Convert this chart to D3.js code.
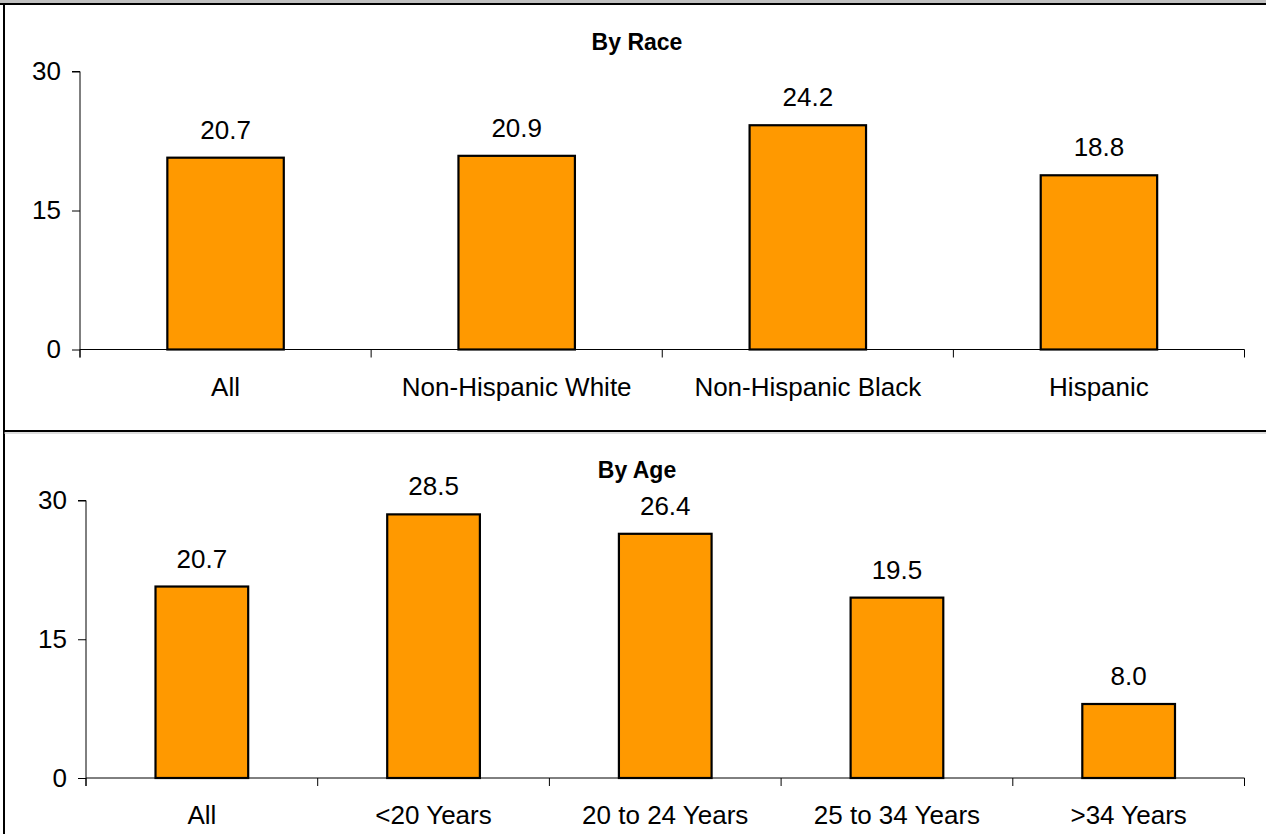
<!DOCTYPE html>
<html>
<head>
<meta charset="utf-8">
<script src="https://cdn.jsdelivr.net/npm/d3@7"></script>
<style>
  html, body { margin: 0; padding: 0; background: #fff; }
  svg { display: block; font-family: Arial, "Liberation Sans", sans-serif; }
</style>
</head>
<body>
<svg id="chart" width="1266" height="834"></svg>
<script>
// ---- Data ----
const raceCategories = ["All", "Non-Hispanic White", "Non-Hispanic Black", "Hispanic"];
const raceValues = [20.7, 20.9, 24.2, 18.8];
const ageCategories = ["All", "<20 Years", "20 to 24 Years", "25 to 34 Years", ">34 Years"];
const ageValues = [20.7, 28.5, 26.4, 19.5, 8.0];
const yTicks = [0, 15, 30];
const titles = ["By Race", "By Age"];

const svg = d3.select("#chart");

// frame
svg.append("rect").attr("x", 0).attr("y", 0).attr("width", 1266).attr("height", 3).attr("fill", "#c0c0c0");
svg.append("line").attr("x1", 0).attr("x2", 1266).attr("y1", 4).attr("y2", 4).attr("stroke", "#000").attr("stroke-width", 2);
svg.append("line").attr("x1", 4).attr("x2", 4).attr("y1", 4).attr("y2", 834).attr("stroke", "#000").attr("stroke-width", 2);
svg.append("line").attr("x1", 4).attr("x2", 1266).attr("y1", 431).attr("y2", 431).attr("stroke", "#000").attr("stroke-width", 2);
svg.append("line").attr("x1", 4).attr("x2", 1266).attr("y1", 433).attr("y2", 433).attr("stroke", "#bbb").attr("stroke-width", 1);

function panel(cfg) {
  const { cats, vals, title, x0, x1, yTop, yBot, titleY } = cfg;
  const g = svg.append("g");
  const x = d3.scaleBand().domain(cats).range([x0, x1]).paddingInner(0).paddingOuter(0);
  const y = d3.scaleLinear().domain([0, 30]).range([yBot, yTop]);
  const bw = x.bandwidth() * 0.4;

  // title
  g.append("text").attr("x", 637).attr("y", titleY).attr("text-anchor", "middle")
    .attr("font-weight", "bold").attr("font-size", 23).attr("fill", "#000").text(title);

  // y axis
  const yAxis = d3.axisLeft(y).tickValues(yTicks).tickSize(8).tickPadding(11).tickFormat(d3.format("d"));
  const ya = g.append("g").attr("transform", `translate(${x0},0)`).call(yAxis);
  ya.select(".domain").attr("stroke", "#000").attr("d", `M-8,${yTop}H0V${yBot + 8}`);
  ya.selectAll(".tick line").attr("stroke", "#000");
  ya.selectAll(".tick text").attr("font-size", 26).attr("fill", "#000")
    .attr("font-family", "Arial, 'Liberation Sans', sans-serif");

  // x axis
  const xa = g.append("g").attr("transform", `translate(0,${yBot})`);
  xa.append("line").attr("x1", x0).attr("x2", x1).attr("stroke", "#000");
  const edges = cats.map(c => x(c)).concat([x1]);
  xa.selectAll("line.tk").data(edges).join("line").attr("class", "tk")
    .attr("x1", d => d).attr("x2", d => d).attr("y1", 0).attr("y2", 8).attr("stroke", "#000");
  xa.selectAll("text.cat").data(cats).join("text").attr("class", "cat")
    .attr("x", d => x(d) + x.bandwidth() / 2).attr("y", 46).attr("text-anchor", "middle")
    .attr("font-size", 26).attr("fill", "#000").text(d => d);

  // bars
  const data = cats.map((c, i) => ({ c, v: vals[i] }));
  g.selectAll("rect.bar").data(data).join("rect").attr("class", "bar")
    .attr("x", d => x(d.c) + (x.bandwidth() - bw) / 2)
    .attr("y", d => y(d.v))
    .attr("width", bw)
    .attr("height", d => yBot - y(d.v))
    .attr("fill", "#FF9900").attr("stroke", "#000").attr("stroke-width", 2.2);

  g.selectAll("text.val").data(data).join("text").attr("class", "val")
    .attr("x", d => x(d.c) + x.bandwidth() / 2)
    .attr("y", d => y(d.v) - 19)
    .attr("text-anchor", "middle").attr("font-size", 26).attr("fill", "#000")
    .text(d => d.v.toFixed(1));
}

panel({ cats: raceCategories, vals: raceValues, title: titles[0], x0: 80, x1: 1244.5, yTop: 71.5, yBot: 349.5, titleY: 50 });
panel({ cats: ageCategories, vals: ageValues, title: titles[1], x0: 86, x1: 1244.5, yTop: 500.5, yBot: 778, titleY: 478 });
</script>
</body>
</html>
